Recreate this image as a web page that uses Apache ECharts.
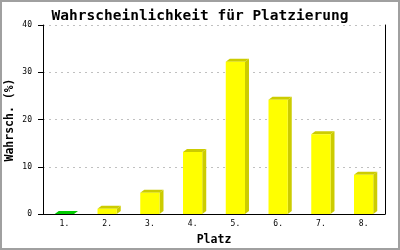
<!DOCTYPE html>
<html>
<head>
<meta charset="utf-8">
<script src="https://cdn.jsdelivr.net/npm/echarts@6/dist/echarts.min.js"></script>
<style>html,body{margin:0;padding:0;background:#fff}#c{width:400px;height:250px}</style>
</head>
<body>
<div id="c"></div>
<script>
var titleText = 'Wahrscheinlichkeit für Platzierung';
var categories = ['1.', '2.', '3.', '4.', '5.', '6.', '7.', '8.'];
var values = [0, 1.1, 4.5, 13.1, 32.2, 24.2, 16.9, 8.3];
var yTicks = [0, 10, 20, 30, 40];
var xName = 'Platz';
var yName = 'Wahrsch. (%)';

var highlightIndex = 0;
var mono = "'DejaVu Sans Mono', 'Liberation Mono', monospace";

var chart = echarts.init(document.getElementById('c'), null, {renderer: 'canvas'});

function renderItem(params, api) {
  var idx = api.value(0), v = api.value(1);
  var top = api.coord([idx, v]);
  var base = api.coord([idx, 0]);
  var w = api.size([1, 0])[0] * 0.45;
  var x0 = top[0] - w / 2, x1 = x0 + w, y0 = top[1], yb = base[1];
  var dx = 4, dy = 3;
  var hl = idx === highlightIndex;
  var front = hl ? '#00ff00' : '#ffff00';
  var dark = hl ? '#00cc00' : '#cccc00';
  return {
    type: 'group',
    children: [
      {type: 'polygon', shape: {points: [[x1, y0], [x1 + dx, y0 - dy], [x1 + dx, yb - dy], [x1, yb]]}, style: {fill: dark}},
      {type: 'polygon', shape: {points: [[x0, y0], [x0 + dx, y0 - dy], [x1 + dx, y0 - dy], [x1, y0]]}, style: {fill: dark}},
      {type: 'rect', shape: {x: x0, y: y0, width: w, height: yb - y0}, style: {fill: front}}
    ]
  };
}

chart.setOption({
  animation: false,
  title: {
    text: titleText, left: 'center', top: 4,
    textStyle: {fontFamily: mono, fontWeight: 'bold', fontSize: 14.5, color: '#000'}
  },
  graphic: [{
    type: 'rect', shape: {x: 1, y: 1, width: 398, height: 248},
    style: {fill: 'none', stroke: '#a0a0a0', lineWidth: 2}, silent: true, z: 100
  }, {
    type: 'text', x: 10, y: 120, rotation: Math.PI / 2, silent: true,
    style: {
      text: yName, fill: '#000', align: 'center', verticalAlign: 'middle',
      textAlign: 'center', textVerticalAlign: 'middle',
      font: "bold 11.5px 'DejaVu Sans Mono', 'Liberation Mono', monospace"
    }
  }],
  grid: {left: 43, right: 15, top: 25, bottom: 36, containLabel: false, outerBoundsMode: 'none'},
  xAxis: {
    type: 'category', data: categories,
    axisLine: {show: true, lineStyle: {color: '#000', width: 1}},
    axisTick: {show: false},
    axisLabel: {fontFamily: mono, fontSize: 8, color: '#000', margin: 6},
    name: xName, nameLocation: 'middle', nameGap: 20,
    nameTextStyle: {fontFamily: mono, fontWeight: 'bold', fontSize: 11.5, color: '#000'}
  },
  yAxis: [{
    type: 'value', min: yTicks[0], max: yTicks[yTicks.length - 1], interval: 10,
    axisLine: {show: true, lineStyle: {color: '#000', width: 1}},
    axisTick: {show: true, length: 5, lineStyle: {color: '#000'}},
    axisLabel: {fontFamily: mono, fontSize: 8, color: '#000', margin: 11},
    splitLine: {show: true, lineStyle: {color: '#c0c0c0', type: [2, 4]}}
  }, {
    type: 'value', position: 'right', min: yTicks[0], max: yTicks[yTicks.length - 1], interval: 10,
    axisLine: {show: true, lineStyle: {color: '#000', width: 1}},
    axisTick: {show: false}, axisLabel: {show: false}, splitLine: {show: false}
  }],
  series: [{
    type: 'custom', renderItem: renderItem,
    data: values.map(function (v, i) { return [i, v]; }),
    encode: {x: 0, y: 1}, clip: false
  }]
});
</script>
</body>
</html>
